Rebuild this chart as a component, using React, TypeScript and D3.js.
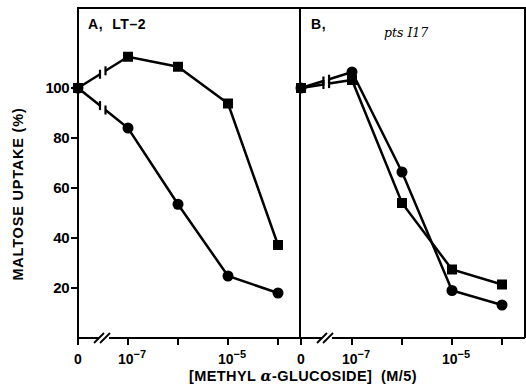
import { useEffect, useRef } from "react";
import * as d3 from "d3";

// concentrations (M/5); 0 is the control point left of the axis break
const concs = [0, 1e-7, 1e-6, 1e-5, 1e-4];
const tickLabels = ["0", "-7", "", "-5", ""];

const aSquares = [100, 112.5, 108.5, 93.8, 37.2];
const aCircles = [100, 84, 53.5, 24.8, 18];
const bCircles = [100, 106.4, 66.4, 19, 13.2];
const bSquares = [100, 103.2, 54, 27.4, 21.4];

const yTicks = [20, 40, 60, 80, 100];

const FONT = "'Liberation Sans', Arial, sans-serif";

export default function App() {
  const svgRef = useRef<SVGSVGElement>(null);

  useEffect(() => {
    if (!svgRef.current) return;
    const svg = d3.select(svgRef.current);
    svg.selectAll("*").remove();

    const top = 8;
    const bottom = 338;
    const y = d3.scaleLinear().domain([0, 132]).range([bottom, top]);

    const panels = [
      { left: 78, right: 300, x0: 128, label: "A,  LT\u20132", sub: "", series: [aSquares, aCircles], shapes: ["square", "circle"] },
      { left: 301, right: 525, x0: 352, label: "B,", sub: "pts I17", series: [bCircles, bSquares], shapes: ["circle", "square"] },
    ];

    // frame
    svg.append("path")
      .attr("d", `M78,${bottom}V${top}H525V${bottom}M300,${top}V${bottom}`)
      .attr("fill", "none").attr("stroke", "#000").attr("stroke-width", 2);

    panels.forEach((p, pi) => {
      const x = d3.scaleLog().domain([1e-7, 1e-4]).range([p.x0, p.x0 + 150]);
      const xp = (c: number) => (c === 0 ? p.left : x(c));
      const g = svg.append("g");

      // bottom axis with break
      const bx1 = p.left + 19, bx2 = p.left + 33;
      g.append("path")
        .attr("d", `M${p.left},${bottom}H${bx1 + 2}M${bx2 - 2},${bottom}H${p.right}`)
        .attr("stroke", "#000").attr("stroke-width", 2);
      [0, 6].forEach((o) => {
        g.append("line")
          .attr("x1", bx1 - 3 + o).attr("y1", bottom + 5)
          .attr("x2", bx1 + 7 + o).attr("y2", bottom - 5)
          .attr("stroke", "#000").attr("stroke-width", 1.8);
      });

      concs.forEach((c, i) => {
        const px = xp(c);
        g.append("line").attr("x1", px).attr("x2", px)
          .attr("y1", bottom).attr("y2", bottom + 7)
          .attr("stroke", "#000").attr("stroke-width", 2);
        if (tickLabels[i] === "0") {
          g.append("text").attr("x", px).attr("y", 364)
            .attr("text-anchor", "middle").attr("font-family", FONT)
            .attr("font-weight", "bold").attr("font-size", 14).text("0");
        } else if (tickLabels[i]) {
          const t = g.append("text").attr("x", px - 10).attr("y", 364)
            .attr("font-family", FONT).attr("font-weight", "bold").attr("font-size", 14);
          t.append("tspan").text("10");
          t.append("tspan").attr("dy", -6).attr("font-size", 11).text("\u2212" + tickLabels[i].slice(1));
        }
      });

      // y ticks on panel A only
      if (pi === 0) {
        yTicks.forEach((v) => {
          g.append("line").attr("x1", p.left - 7).attr("x2", p.left)
            .attr("y1", y(v)).attr("y2", y(v))
            .attr("stroke", "#000").attr("stroke-width", 2);
          g.append("text").attr("x", p.left - 9).attr("y", y(v)).attr("dy", "0.36em")
            .attr("text-anchor", "end").attr("font-family", FONT)
            .attr("font-weight", "bold").attr("font-size", 15).attr("letter-spacing", -0.5).text(v);
        });
      }

      // panel labels
      g.append("text").attr("x", p.left + 10).attr("y", 29)
        .attr("font-family", FONT).attr("font-weight", "bold").attr("font-size", 14)
        .attr("letter-spacing", 0.6).attr("xml:space", "preserve").text(p.label);
      if (p.sub) {
        g.append("text").attr("x", p.left + 83).attr("y", 37)
          .attr("font-family", "'DejaVu Serif', serif").attr("font-style", "italic")
          .attr("font-size", 12.5).text(p.sub);
      }

      // series
      p.series.forEach((vals, si) => {
        const pts = concs.map((c, i) => [xp(c), y(vals[i])] as [number, number]);
        // broken segment between 0 and 1e-7
        const [a, b] = [pts[0], pts[1]];
        const f1 = 0.44, f2 = 0.55;
        const m1: [number, number] = [a[0] + (b[0] - a[0]) * f1, a[1] + (b[1] - a[1]) * f1];
        const m2: [number, number] = [a[0] + (b[0] - a[0]) * f2, a[1] + (b[1] - a[1]) * f2];
        const line = d3.line();
        g.append("path").attr("d", line([a, m1])).attr("fill", "none")
          .attr("stroke", "#000").attr("stroke-width", 2.5);
        g.append("path").attr("d", line([m2, ...pts.slice(1)])).attr("fill", "none")
          .attr("stroke", "#000").attr("stroke-width", 2.5);
        [m1, m2].forEach((m) => {
          g.append("line").attr("x1", m[0]).attr("x2", m[0])
            .attr("y1", m[1] - 4.5).attr("y2", m[1] + 4.5)
            .attr("stroke", "#000").attr("stroke-width", 2.2);
        });
        pts.forEach((pt) => {
          if (p.shapes[si] === "square") {
            g.append("rect").attr("x", pt[0] - 5).attr("y", pt[1] - 5)
              .attr("width", 10).attr("height", 10).attr("fill", "#000");
          } else {
            g.append("circle").attr("cx", pt[0]).attr("cy", pt[1]).attr("r", 5.5).attr("fill", "#000");
          }
        });
      });
    });

    // axis titles
    svg.append("text").attr("transform", "translate(23,194) rotate(-90)")
      .attr("text-anchor", "middle").attr("font-family", FONT)
      .attr("font-weight", "bold").attr("font-size", 14.5).attr("letter-spacing", 0.8)
      .text("MALTOSE UPTAKE (%)");
    const xt = svg.append("text").attr("x", 303).attr("y", 381)
      .attr("text-anchor", "middle").attr("font-family", FONT)
      .attr("font-weight", "bold").attr("font-size", 14.5).attr("letter-spacing", 0.4)
      .attr("xml:space", "preserve");
    xt.append("tspan").text("[METHYL ");
    xt.append("tspan").attr("font-style", "italic").attr("font-family", "'DejaVu Serif', serif").text("\u03b1");
    xt.append("tspan").text("-GLUCOSIDE]  (M/5)");
  }, []);

  return (
    <svg
      ref={svgRef}
      width={526}
      height={390}
      style={{ position: "absolute", left: 0, top: 0, background: "#fff" }}
    />
  );
}
